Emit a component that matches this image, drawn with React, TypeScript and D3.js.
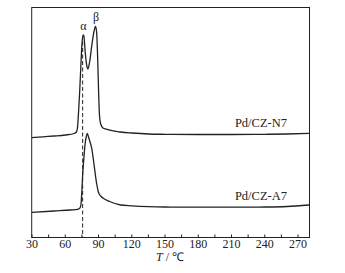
import React from "react";
import * as d3 from "d3";

const tempsN7 = [30, 40, 50, 60, 68, 70, 71, 72, 73, 74, 75, 76, 76.8, 78, 79.5, 80.5, 82, 84, 86, 87.3, 88.3, 89.3, 90.3, 91, 92, 94, 97, 100, 110, 120, 135, 150, 180, 210, 240, 260, 280];
const signalN7 = [99.8, 100.7, 101.5, 102.5, 104, 105.5, 109.5, 125.5, 145.5, 169.5, 192.5, 202.5, 201.5, 185.5, 171.5, 168.5, 175.5, 192.5, 206.5, 211, 205.5, 177.5, 137.5, 120.5, 113.5, 109.5, 108.3, 107.3, 105.5, 104.5, 103.5, 103.2, 103, 103, 103.2, 103.5, 104.2];

const tempsA7 = [30, 50, 65, 71, 72.5, 73.5, 74.2, 75, 75.7, 77, 77.8, 79, 79.9, 81, 82.5, 83.9, 85.5, 86.8, 88.3, 89.8, 92, 94.3, 100, 110, 120, 135, 150, 180, 210, 240, 260, 280];
const signalA7 = [25.2, 26.5, 27.5, 28.2, 28.8, 30, 33, 47, 62.5, 82, 92.5, 101, 104.2, 100.5, 95, 89.2, 77, 65.8, 54, 45.8, 41.5, 39.2, 36, 32.5, 31.7, 30.9, 30.5, 30.3, 30.3, 30.5, 31, 32.5];

const seriesNames = ["Pd/CZ-N7", "Pd/CZ-A7"];
const majorTicks = [30, 60, 90, 120, 150, 180, 210, 240, 270];
const minorTicks = [45, 75, 105, 135, 165, 195, 225, 255];
const dashedT = 75.7;
const alphaT = 76.3;
const betaT = 87.8;

const W = 345, H = 273;
const L = 31.7, R = 309.5, T = 7.5, B = 237.5;
const font = "'Liberation Serif', 'Times New Roman', serif";

export default function App() {
  const x = d3.scaleLinear().domain([30, 30 + (R - 32) / 33.25 * 30]).range([32, R]);
  const y = d3.scaleLinear().domain([0, 230]).range([B, T]);
  const line = d3.line<[number, number]>().x(d => x(d[0])).y(d => y(d[1])).curve(d3.curveMonotoneX);
  const n7 = tempsN7.map((t, i) => [t, signalN7[i]] as [number, number]);
  const a7 = tempsA7.map((t, i) => [t, signalA7[i]] as [number, number]);
  return (
    <svg width={W} height={H} style={{ position: "absolute", left: 0, top: 0, background: "#fff" }}>
      <rect x={L} y={T} width={R - L} height={B - T} fill="none" stroke="#222" strokeWidth={1} />
      {[...majorTicks, ...minorTicks].map(t => (
        <line key={t} x1={x(t)} x2={x(t)} y1={B} y2={B - 3} stroke="#222" strokeWidth={1} />
      ))}
      {majorTicks.map(t => (
        <text key={t} x={x(t)} y={248} fontSize={12} fontFamily={font} textAnchor="middle" fill="#222">{t}</text>
      ))}
      <text x={170} y={261} fontSize={12} fontFamily={font} textAnchor="middle" fill="#222">
        <tspan fontStyle="italic">T</tspan> / ℃
      </text>
      <line x1={x(dashedT)} x2={x(dashedT)} y1={y(196)} y2={B} stroke="#222" strokeWidth={1} strokeDasharray="4,2.5" />
      <path d={line(n7) || ""} fill="none" stroke="#222" strokeWidth={1.3} />
      <path d={line(a7) || ""} fill="none" stroke="#222" strokeWidth={1.3} />
      <text x={x(alphaT)} y={30} fontSize={12} fontFamily={font} textAnchor="middle" fill="#222">α</text>
      <text x={x(betaT)} y={20.5} fontSize={12} fontFamily={font} textAnchor="middle" fill="#222">β</text>
      <text x={287} y={127} fontSize={12.5} fontFamily={font} textAnchor="end" fill="#222">{seriesNames[0]}</text>
      <text x={287} y={199.5} fontSize={12.5} fontFamily={font} textAnchor="end" fill="#222">{seriesNames[1]}</text>
    </svg>
  );
}
